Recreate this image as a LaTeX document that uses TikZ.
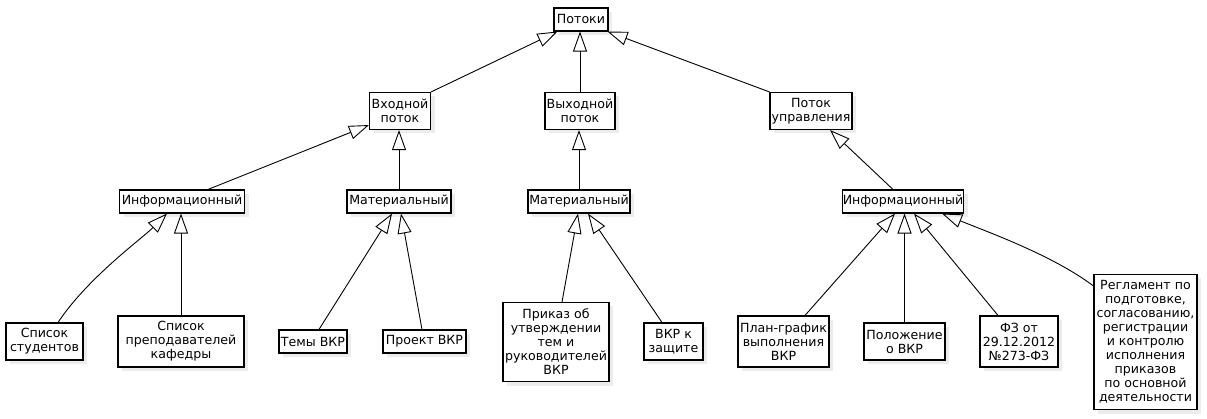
\documentclass[tikz,border=0pt]{standalone}
\usepackage{fontspec}
\setmainfont{DejaVu Sans}
\usetikzlibrary{arrows.meta,shadows,calc}
\begin{document}
\begin{tikzpicture}[x=1pt,y=-1pt,
  box/.style={draw=black, line width=1.1pt, fill=white, inner sep=0pt, align=center,
    font=\fontsize{12.6}{14}\selectfont,
    drop shadow={shadow xshift=4pt, shadow yshift=-4pt, fill=black!15, draw=none}},
  gen/.style={draw=black, line width=0.9pt, -{Triangle[open, length=20pt, width=14pt, line width=0.9pt]}}
]
\useasboundingbox (0,0) rectangle (1207,419);
% level 0
\node[box, minimum width=54pt, minimum height=23pt] (top) at (581,19.5) {Потоки};
% level 1
\node[box, minimum width=61pt, minimum height=37pt] (in) at (400,111) {Входной\\поток};
\node[box, minimum width=70pt, minimum height=37pt] (out) at (580,111) {Выходной\\поток};
\node[box, minimum width=82pt, minimum height=37pt] (ctl) at (811,111) {Поток\\управления};
% level 2
\node[box, minimum width=125pt, minimum height=23pt] (infoL) at (182,201.5) {Информационный};
\node[box, minimum width=104pt, minimum height=23pt] (matL) at (399,201.5) {Материальный};
\node[box, minimum width=102pt, minimum height=23pt] (matM) at (579,201.5) {Материальный};
\node[box, minimum width=121pt, minimum height=23pt] (infoR) at (903,201.5) {Информационный};
% level 3
\node[box, minimum width=77pt, minimum height=37pt] (stud) at (44.5,341.5) {Список\\студентов};
\node[box, minimum width=126pt, minimum height=51pt] (prep) at (181,341.5) {Список\\преподавателей\\кафедры};
\node[box, minimum width=68pt, minimum height=23pt] (temy) at (313,341.5) {Темы ВКР};
\node[box, minimum width=83pt, minimum height=23pt] (proj) at (424.5,341.5) {Проект ВКР};
\node[box, minimum width=106pt, minimum height=79pt] (prik) at (556,342) {Приказ об\\утверждении\\тем и\\руководителей\\ВКР};
\node[box, minimum width=59pt, minimum height=37pt] (zash) at (673.5,341.5) {ВКР к\\защите};
\node[box, minimum width=91pt, minimum height=51pt] (plan) at (783.5,341.5) {План-график\\выполнения\\ВКР};
\node[box, minimum width=81pt, minimum height=37pt] (polo) at (904.5,341.5) {Положение\\о ВКР};
\node[box, minimum width=78pt, minimum height=51pt] (fz) at (1019,341.5) {ФЗ от\\29.12.2012\\№273-ФЗ};
\node[box, minimum width=103pt, minimum height=135pt] (reg) at (1145.5,342) {Регламент по\\подготовке,\\согласованию,\\регистрации\\и контролю\\исполнения\\приказов\\по основной\\деятельности};
% connectors level 1 -> 0
\draw[gen] (in.north east) -- ([xshift=4pt]top.south west);
\draw[gen] (out.north) -- (out.north |- top.south);
\draw[gen] (ctl.north west) -- ([xshift=-1pt]top.south east);
% level 2 -> 1
\draw[gen] ([xshift=26pt]infoL.north) -- ([yshift=5pt]in.south west);
\draw[gen] (matL.north) -- (matL.north |- in.south);
\draw[gen] (matM.north) -- (matM.north |- out.south);
\draw[gen] ([xshift=-10pt]infoR.north) -- ([xshift=19pt]ctl.south);
% level 3 -> 2
\draw[gen] ([xshift=13.5pt]stud.north) .. controls +(30,-45) and +(-25,25) .. ([xshift=-15pt]infoL.south);
\draw[gen] (prep.north) -- (prep.north |- infoL.south);
\draw[gen] ([xshift=6pt]temy.north) -- ([xshift=-7pt]matL.south);
\draw[gen] ([xshift=-2.5pt]proj.north) -- ([xshift=2pt]matL.south);
\draw[gen] ([xshift=6pt]prik.north) -- ([xshift=-1pt]matM.south);
\draw[gen] ([xshift=-11.5pt]zash.north) -- ([xshift=9pt]matM.south);
\draw[gen] ([xshift=21.5pt]plan.north) -- ([xshift=-8pt]infoR.south);
\draw[gen] (polo.north) -- (polo.north |- infoR.south);
\draw[gen] ([xshift=-21pt]fz.north) -- ([xshift=11pt]infoR.south);
\draw[gen] ([yshift=-12pt]reg.north west) .. controls +(-40,-30) and +(50,20) .. ([xshift=39pt]infoR.south);
\end{tikzpicture}
\end{document}
